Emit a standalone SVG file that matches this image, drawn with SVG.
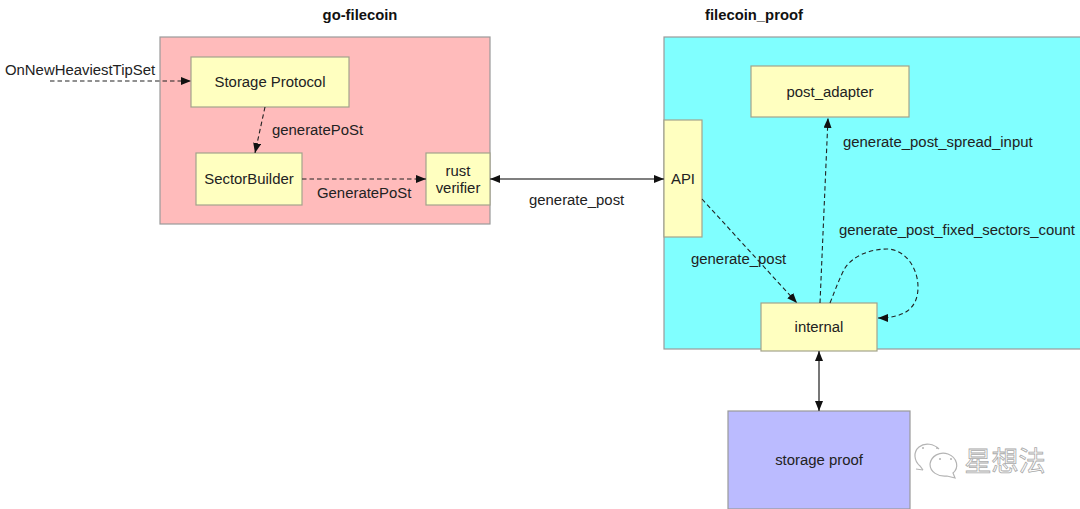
<svg xmlns="http://www.w3.org/2000/svg" width="1080" height="509" viewBox="0 0 1080 509">
<style>
text{font-family:"Liberation Sans",Arial,"Noto Sans CJK SC",sans-serif;font-size:14.9px;fill:#222;text-anchor:middle}
.t{font-weight:bold;font-size:14.8px;fill:#111}
.lb{text-anchor:start}
.box{stroke:#a3a38c;stroke-width:1.2}
.y{fill:#ffffc0}
.big{stroke:#9a9a9a;stroke-width:1.2}
.d{fill:none;stroke:#222;stroke-width:1.1;stroke-dasharray:4.5 3}
.s{fill:none;stroke:#555;stroke-width:1.6}
</style>
<defs>
<marker id="a" viewBox="0 0 10 8" refX="10" refY="4" markerWidth="10" markerHeight="8" markerUnits="userSpaceOnUse" orient="auto-start-reverse"><path d="M0 0L10 4L0 8z" fill="#111"/></marker>
</defs>
<rect width="1080" height="509" fill="#fff"/>
<g id="go-filecoin"><rect class="big" x="160" y="37" width="330" height="187" fill="#ffbbbb"/><text class="t" x="360" y="20">go-filecoin</text></g>
<g id="filecoin_proof"><rect class="big" x="664" y="37" width="417" height="312" fill="#80ffff"/><text class="t" x="754" y="20">filecoin_proof</text></g>
<g id="storage-protocol"><rect class="box y" x="191" y="57" width="158" height="50"/><text x="270" y="87">Storage Protocol</text></g>
<g id="sector-builder"><rect class="box y" x="196" y="153" width="106" height="52"/><text x="249" y="184">SectorBuilder</text></g>
<g id="rust-verifier"><rect class="box y" x="426" y="153" width="64" height="52"/><text x="458" y="176">rust</text><text x="458" y="193">verifier</text></g>
<g id="post-adapter"><rect class="box y" x="751" y="66" width="158" height="51"/><text x="830" y="97">post_adapter</text></g>
<g id="api"><rect class="box y" x="664" y="120" width="38" height="117"/><text x="683" y="184">API</text></g>
<g id="internal"><rect class="box y" x="761" y="303" width="116" height="48"/><text x="819" y="332">internal</text></g>
<g id="storage-proof"><rect class="big" x="728" y="411" width="182" height="98" fill="#bbbbff"/><text x="819" y="465">storage proof</text></g>
<g id="connectors">
<path class="d" d="M50 81H191" marker-end="url(#a)"/>
<path class="d" d="M265 107L255 153" marker-end="url(#a)"/>
<path class="d" d="M302 179H426" marker-end="url(#a)"/>
<path class="s" d="M490 179H664" marker-start="url(#a)" marker-end="url(#a)"/>
<path class="d" d="M820 303L828 118" marker-end="url(#a)"/>
<path class="d" d="M702 199L797 303" marker-end="url(#a)"/>
<path class="d" d="M830 303C836 288 840 277 845 268C853 256 870 249 887 249C905 249 918 268 918 287C918 308 905 318 878 318" marker-end="url(#a)"/>
<path class="s" d="M819 351V411" marker-start="url(#a)" marker-end="url(#a)"/>
</g>
<g id="labels">
<text class="lb" x="5" y="75">OnNewHeaviestTipSet</text>
<text class="lb" x="272" y="135">generatePoSt</text>
<text class="lb" x="317" y="198">GeneratePoSt</text>
<text class="lb" x="529" y="205">generate_post</text>
<text class="lb" x="843" y="147">generate_post_spread_input</text>
<text class="lb" x="839" y="235">generate_post_fixed_sectors_count</text>
<text class="lb" x="691" y="264">generate_post</text>
</g>
<g id="watermark" fill="none" stroke="#b4b4b4" stroke-width="1.2">
<path d="M939 449C934 444 925 442 919 447C913 452 914 461 920 466L923 470"/>
<path d="M923 470L916 469"/>
<path d="M948 454C940 451 931 456 930 464C930 472 938 477 947 476L955 478L953 473C959 468 958 458 948 454Z"/>
<path d="M922 448h2M936 448h2M939 459h2M950 459h2" stroke-width="1.6"/>
<text x="1005" y="471" style="font-family:'Noto Sans CJK SC',sans-serif;font-size:27px;fill:#fff;stroke:#aaa;stroke-width:.8">星想法</text>
</g>
</svg>
